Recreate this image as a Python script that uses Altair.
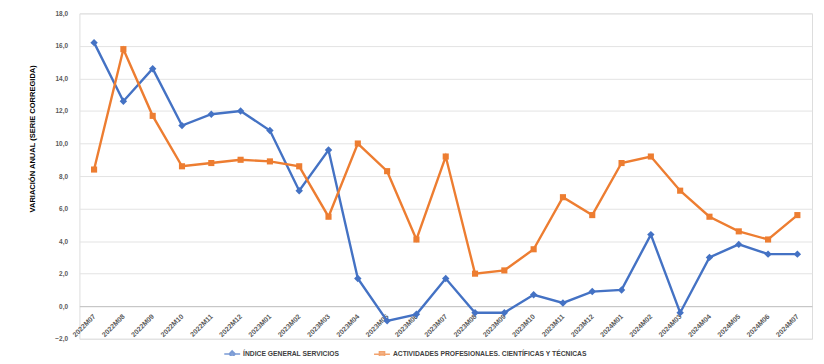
import altair as alt
import pandas as pd

months = ["2022M07", "2022M08", "2022M09", "2022M10", "2022M11", "2022M12",
          "2023M01", "2023M02", "2023M03", "2023M04", "2023M05", "2023M06",
          "2023M07", "2023M08", "2023M09", "2023M10", "2023M11", "2023M12",
          "2024M01", "2024M02", "2024M03", "2024M04", "2024M05", "2024M06",
          "2024M07"]
general = [16.2, 12.6, 14.6, 11.1, 11.8, 12.0, 10.8, 7.1, 9.6, 1.7, -0.9, -0.5,
           1.7, -0.4, -0.4, 0.7, 0.2, 0.9, 1.0, 4.4, -0.4, 3.0, 3.8, 3.2, 3.2]
actividades = [8.4, 15.8, 11.7, 8.6, 8.8, 9.0, 8.9, 8.6, 5.5, 10.0, 8.3, 4.1,
               9.2, 2.0, 2.2, 3.5, 6.7, 5.6, 8.8, 9.2, 7.1, 5.5, 4.6, 4.1, 5.6]
series_names = ["ÍNDICE GENERAL SERVICIOS",
                "ACTIVIDADES PROFESIONALES, CIENTÍFICAS Y TÉCNICAS"]
series_colors = ["#4472C4", "#ED7D31"]
y_ticks = [-2, 0, 2, 4, 6, 8, 10, 12, 14, 16, 18]

rows = []
for m, g, a in zip(months, general, actividades):
    rows.append({"mes": m, "serie": series_names[0], "valor": g})
    rows.append({"mes": m, "serie": series_names[1], "valor": a})
df = pd.DataFrame(rows)

FONT = "Liberation Sans"

x_enc = alt.X("mes:N", sort=months,
              scale=alt.Scale(type="point", padding=0.5),
              axis=alt.Axis(title=None, labelAngle=-45, labelAlign="right",
                            labelBaseline="middle", labelPadding=9,
                            labelFontSize=7, labelFont=FONT,
                            labelFontWeight="bold",
                            labelColor="#595959", ticks=False, grid=False,
                            domainColor="#bfbfbf", domainWidth=1,
                            offset=-32.8, labelOverlap=False))
y_enc = alt.Y("valor:Q",
              scale=alt.Scale(domain=[-2, 18], nice=False, zero=False),
              axis=alt.Axis(values=y_ticks, title="VARIACIÓN ANUAL (SERIE CORREGIDA)",
                            labelExpr="replace(format(datum.value, '.1f'), '.', ',')",
                            labelFontSize=6.5, labelFont=FONT, labelFontWeight="bold",
                            labelColor="#595959", labelPadding=12,
                            ticks=False, domain=False,
                            gridColor="#e3e3e3", gridWidth=1,
                            titleFont=FONT, titleFontSize=7.6, titleFontWeight="bold",
                            titleColor="#000000", titleAngle=-90,
                            titleX=-47, titleY=126, titleAlign="center",
                            titleBaseline="middle"))

base = alt.Chart(df)

line_gen = base.transform_filter(
    alt.datum.serie == series_names[0]
).mark_line(
    color=series_colors[0], strokeWidth=2.4,
    point=alt.OverlayMarkDef(shape="diamond", size=56, filled=True,
                             color=series_colors[0], opacity=1)
).encode(x=x_enc, y=y_enc)

line_act = base.transform_filter(
    alt.datum.serie == series_names[1]
).mark_line(
    color=series_colors[1], strokeWidth=2.4,
    point=alt.OverlayMarkDef(shape="square", size=38, filled=True,
                             color=series_colors[1], opacity=1)
).encode(x=x_enc, y=y_enc)

legend = alt.Legend(title=None, orient="none", legendX=145, legendY=334,
                    direction="horizontal", columns=2, columnPadding=31,
                    padding=0, symbolSize=256, symbolStrokeWidth=1.6,
                    labelOffset=2, labelFont=FONT, labelFontSize=6.8,
                    labelFontWeight="bold", labelColor="#404040",
                    labelLimit=400)

shape_paths = ["M-1,0H1M0,-0.38L0.38,0L0,0.38L-0.38,0Z",
               "M-1,0H1M-0.32,-0.32H0.32V0.32H-0.32Z"]

legend_layer = base.transform_filter("false").mark_point(
    filled=True, strokeWidth=1.6
).encode(
    fill=alt.Fill("serie:N", scale=alt.Scale(domain=series_names, range=series_colors),
                  legend=legend),
    stroke=alt.Stroke("serie:N", scale=alt.Scale(domain=series_names, range=series_colors),
                      legend=legend),
    shape=alt.Shape("serie:N", scale=alt.Scale(domain=series_names, range=shape_paths),
                    legend=legend),
)

chart = alt.layer(line_gen, line_act, legend_layer).properties(
    width=738.5, height=328,
    autosize=alt.AutoSizeParams(type="none"),
    padding={"left": 72, "top": 4, "right": 4, "bottom": 16},
).configure_view(stroke=None).configure(background="white")

chart.save("out.html", embed_options={"renderer": "svg", "actions": False})
